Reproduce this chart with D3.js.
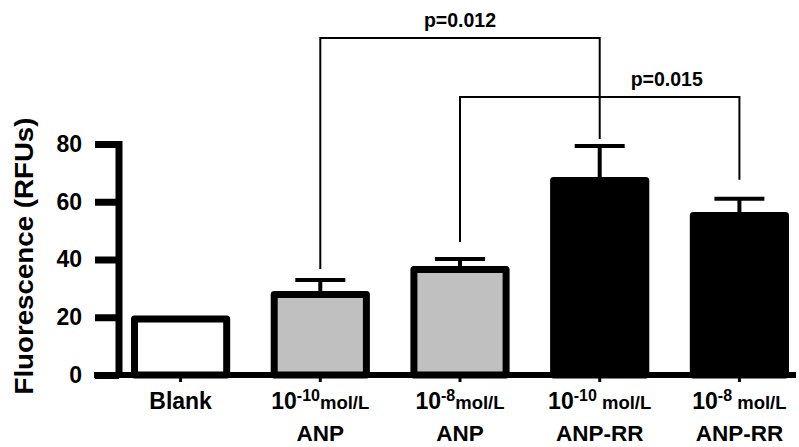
<!DOCTYPE html>
<html>
<head>
<meta charset="utf-8">
<script src="https://cdn.jsdelivr.net/npm/d3@7"></script>
<style>
  body { margin: 0; background: #fff; }
  text { font-family: "Liberation Sans", Arial, sans-serif; font-weight: bold; fill: #000; }
</style>
</head>
<body>
<script>
// data
var groups = ["blank", "anp10", "anp8", "rr10", "rr8"];
var means = [19.4, 27.9, 36.5, 67.4, 55.2];
var errs = [0, 5, 3.7, 11.9, 5.8];
var fills = ["#fff", "#c0c0c0", "#c0c0c0", "#000", "#000"];
var lineOne = [
  { exp: "", unit: "Blank" },
  { exp: "-10", unit: "mol/L" },
  { exp: "-8", unit: "mol/L" },
  { exp: "-10", unit: " mol/L" },
  { exp: "-8", unit: " mol/L" }
];
var lineTwo = ["", "ANP", "ANP", "ANP-RR", "ANP-RR"];
var yTicks = [0, 20, 40, 60, 80];
// comparisons: from group, to group, bracket level (data units), label
var comps = [
  { a: "anp10", b: "rr10", level: 116.7, label: "p=0.012" },
  { a: "anp8", b: "rr8", level: 96.3, label: "p=0.015" }
];

var width = 799, height = 447;
var svg = d3.select("body").append("svg")
  .attr("width", width).attr("height", height);

var y = d3.scaleLinear().domain([0, 80]).range([375, 144]);
var x = d3.scaleBand().domain(groups).range([131, 789]).paddingInner(0.29).paddingOuter(0);
var bw = x.bandwidth();
var cx = function (g) { return x(g) + bw / 2; };

// y axis
var yAxis = d3.axisLeft(y).tickValues(yTicks).tickSize(24).tickPadding(13);
var yg = svg.append("g").attr("transform", "translate(119,0)").call(yAxis);
yg.select(".domain").attr("stroke-width", 7).attr("d", "M0," + (y(80) - 3) + "V" + (y(0) + 3));
yg.selectAll(".tick line").attr("stroke-width", 7);
yg.selectAll(".tick text").style("font-size", "23px");

svg.append("text")
  .attr("transform", "translate(33,256) rotate(-90)")
  .attr("text-anchor", "middle")
  .attr("textLength", 277)
  .attr("lengthAdjust", "spacingAndGlyphs")
  .style("font-size", "25px")
  .text("Fluorescence (RFUs)");

// x axis
svg.append("line")
  .attr("x1", 94).attr("x2", 796)
  .attr("y1", y(0)).attr("y2", y(0))
  .attr("stroke", "#000").attr("stroke-width", 6);
svg.selectAll(".xtick").data(groups).enter().append("line")
  .attr("x1", cx).attr("x2", cx)
  .attr("y1", y(0)).attr("y2", y(0) + 7)
  .attr("stroke", "#000").attr("stroke-width", 3);

// error bars
var eb = svg.selectAll(".err").data(groups.filter(function (g, i) { return errs[i] > 0; }))
  .enter().append("g");
eb.append("line")
  .attr("x1", cx).attr("x2", cx)
  .attr("y1", function (g) { return y(means[groups.indexOf(g)]); })
  .attr("y2", function (g) { var i = groups.indexOf(g); return y(means[i] + errs[i]); })
  .attr("stroke", "#000").attr("stroke-width", 4);
eb.append("line")
  .attr("x1", function (g) { return cx(g) - 25; })
  .attr("x2", function (g) { return cx(g) + 25; })
  .attr("y1", function (g) { var i = groups.indexOf(g); return y(means[i] + errs[i]); })
  .attr("y2", function (g) { var i = groups.indexOf(g); return y(means[i] + errs[i]); })
  .attr("stroke", "#000").attr("stroke-width", 4);

// bars
svg.selectAll(".bar").data(groups).enter().append("rect")
  .attr("x", function (g) { return x(g) + 3.5; })
  .attr("width", bw - 7)
  .attr("y", function (g, i) { return y(means[i]); })
  .attr("height", function (g, i) { return y(0) - y(means[i]); })
  .attr("fill", function (g, i) { return fills[i]; })
  .attr("stroke", "#000").attr("stroke-width", 7)
  .attr("stroke-linejoin", "round");

// significance brackets (leg gaps above the caps, px)
var legGaps = [[11, 7], [17, 19]];
var labelShift = [0, 67];
comps.forEach(function (c, k) {
  var ia = groups.indexOf(c.a), ib = groups.indexOf(c.b);
  var ly = y(c.level);
  var aEnd = y(means[ia] + errs[ia]) - legGaps[k][0];
  var bEnd = y(means[ib] + errs[ib]) - legGaps[k][1];
  svg.append("path")
    .attr("d", "M" + cx(c.a) + "," + aEnd + "V" + ly + "H" + cx(c.b) + "V" + bEnd)
    .attr("fill", "none").attr("stroke", "#000").attr("stroke-width", 2);
  svg.append("text")
    .attr("x", (cx(c.a) + cx(c.b)) / 2 + labelShift[k])
    .attr("y", ly - 11)
    .attr("text-anchor", "middle")
    .style("font-size", "19.5px")
    .text(c.label);
});

// category labels
var lab = svg.selectAll(".lab").data(groups).enter().append("text")
  .attr("x", cx).attr("y", 409)
  .attr("text-anchor", "middle");
lab.each(function (g, i) {
  var t = d3.select(this), d = lineOne[i];
  if (d.exp === "") {
    t.append("tspan").style("font-size", "23px").text(d.unit);
  } else {
    t.append("tspan").style("font-size", "23px").text("10");
    t.append("tspan").style("font-size", "16px").attr("dy", -8).text(d.exp);
    t.append("tspan").style("font-size", "18.5px").attr("dy", 8).text(d.unit);
  }
});
svg.selectAll(".lab2").data(groups).enter().append("text")
  .attr("x", cx).attr("y", 441)
  .attr("text-anchor", "middle")
  .style("font-size", "22.5px")
  .text(function (g, i) { return lineTwo[i]; });
</script>
</body>
</html>
